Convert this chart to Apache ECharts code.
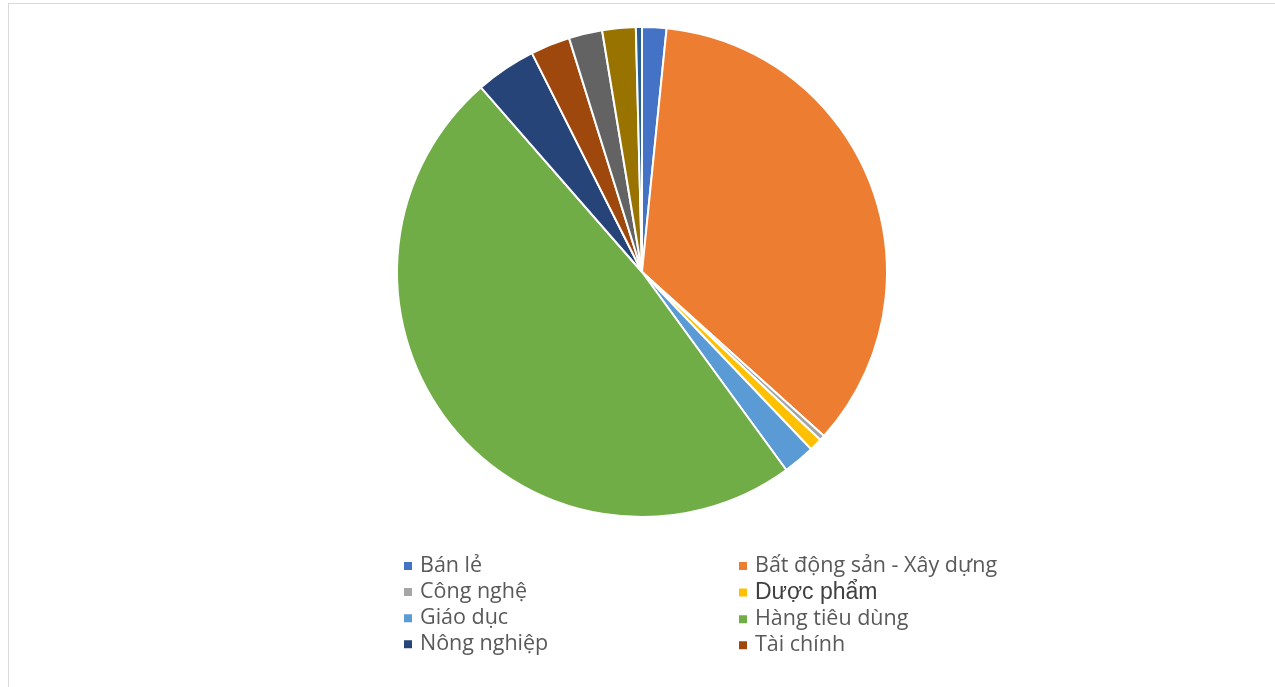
<!DOCTYPE html>
<html><head><meta charset="utf-8">
<script src="https://cdn.jsdelivr.net/npm/echarts@6/dist/echarts.min.js"></script>
<style>
html,body{margin:0;padding:0;background:#fff;}
#frame{position:absolute;left:8px;top:3px;width:1270px;height:690px;border:1px solid #d9d9d9;box-sizing:border-box;}
#c{position:absolute;left:0;top:0;width:1275px;height:687px;}
</style></head>
<body><div id="frame"></div><div id="c"></div>
<script>
const categories = ["Bán lẻ","Bất động sản - Xây dựng","Công nghệ","Dược phẩm","Giáo dục","Hàng tiêu dùng","Nông nghiệp","Tài chính","Thép","Vận tải","Năng lượng"];
const values = [1.6, 35.0, 0.35, 0.85, 2.1, 48.5, 4.0, 2.6, 2.2, 2.2, 0.4];
const colors = ["#4472C4","#ED7D31","#A5A5A5","#FFC000","#5B9BD5","#70AD47","#264478","#9E480E","#636363","#997300","#255E91"];
const legendLeft = ["Bán lẻ","Công nghệ","Giáo dục","Nông nghiệp"];
const legendRight = ["Bất động sản - Xây dựng","Dược phẩm","Hàng tiêu dùng","Tài chính"];

const chart = echarts.init(document.getElementById('c'), null, {renderer:'canvas'});
const baseText = {fontFamily:'Open Sans', fontSize:21.5, color:'#595959', lineHeight:20, height:20, padding:[0,0,0,2]};
function legendItems(arr){
  return arr.map(n => n === 'Dược phẩm'
    ? {name:n, textStyle:{fontFamily:'Liberation Sans', fontSize:23, color:'#404040', lineHeight:20, height:20, padding:[0,0,0,2]}}
    : {name:n});
}
function mkLegend(arr, left){
  return {orient:'vertical', left:left, top:555, padding:0, itemWidth:10, itemHeight:10, icon:'rect',
    itemGap:4.1, textStyle:baseText, data:legendItems(arr), selectedMode:false};
}
chart.setOption({
  animation:false,
  color: colors,
  legend:[mkLegend(legendLeft,402), mkLegend(legendRight,737)],
  series:[{
    type:'pie', center:[642,272], radius:245, startAngle:90, clockwise:true,
    label:{show:false}, labelLine:{show:false},
    itemStyle:{borderColor:'#fff', borderWidth:2},
    data: categories.map((c,i)=>({name:c, value:values[i]}))
  }]
});
</script></body></html>
